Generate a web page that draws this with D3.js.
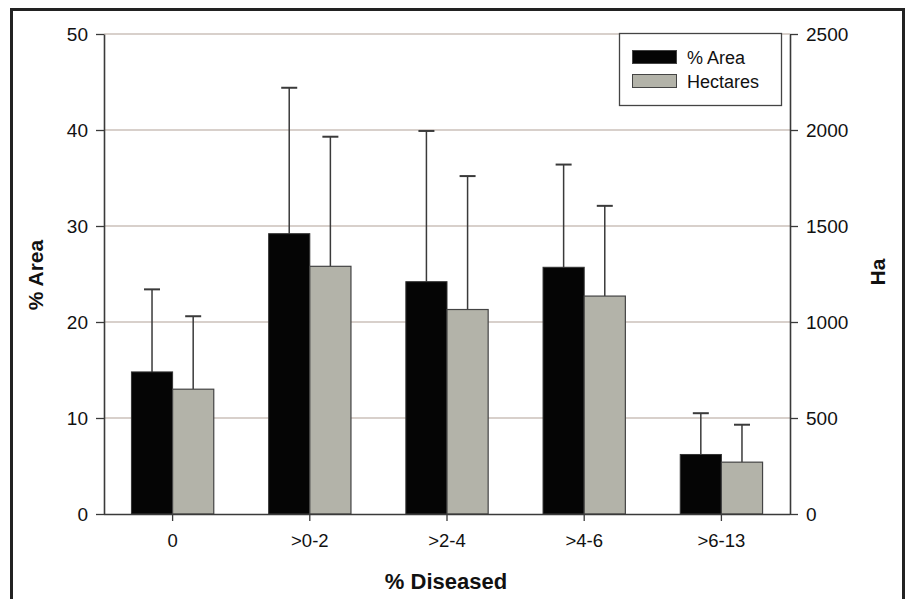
<!DOCTYPE html>
<html><head><meta charset="utf-8">
<script src="https://cdn.jsdelivr.net/npm/d3@7"></script>
<style>
html,body{margin:0;padding:0;background:#fff;}
svg{display:block;font-family:Arial,"Liberation Sans",sans-serif;}
</style></head>
<body><svg id="chart" width="907" height="599"></svg>
<script>
const categories = ["0", ">0-2", ">2-4", ">4-6", ">6-13"];
const areaPct = [14.8, 29.2, 24.2, 25.7, 6.2];
const areaErrTop = [23.4, 44.4, 39.9, 36.4, 10.5];
const hectares = [650, 1290, 1065, 1135, 270];
const hectaresErrTop = [1030, 1965, 1760, 1605, 465];
const leftTicks = [0, 10, 20, 30, 40, 50];
const rightTicks = [0, 500, 1000, 1500, 2000, 2500];
const seriesNames = ["% Area", "Hectares"];

const svg = d3.select("#chart");
const m = {left: 104, right: 790, top: 34, bottom: 514};

// outer frame
svg.append("rect").attr("x", 11.5).attr("y", 9.5).attr("width", 892).attr("height", 600)
  .attr("fill", "#fff").attr("stroke", "#222").attr("stroke-width", 3);

const x = d3.scaleBand().domain(categories).range([m.left, m.right]).paddingInner(0.4).paddingOuter(0.2);
const yL = d3.scaleLinear().domain([0, 50]).range([m.bottom, m.top]);
const yR = d3.scaleLinear().domain([0, 2500]).range([m.bottom, m.top]);

// gridlines
svg.append("g").selectAll("line").data(leftTicks.filter(d => d > 0)).join("line")
  .attr("x1", m.left).attr("x2", m.right).attr("y1", d => yL(d)).attr("y2", d => yL(d))
  .attr("stroke", "#cbc1ba").attr("stroke-width", 1.3);

const bw = x.bandwidth() / 2;
const g = svg.append("g");
const errStroke = "#3a3a3a";
categories.forEach((c, i) => {
  const cx1 = x(c) + bw / 2, cx2 = x(c) + bw * 1.5;
  g.append("line").attr("x1", cx1).attr("x2", cx1).attr("y1", yL(areaPct[i])).attr("y2", yL(areaErrTop[i]))
    .attr("stroke", errStroke).attr("stroke-width", 1.5);
  g.append("line").attr("x1", cx1 - 8).attr("x2", cx1 + 8).attr("y1", yL(areaErrTop[i])).attr("y2", yL(areaErrTop[i]))
    .attr("stroke", errStroke).attr("stroke-width", 2);
  g.append("line").attr("x1", cx2).attr("x2", cx2).attr("y1", yR(hectares[i])).attr("y2", yR(hectaresErrTop[i]))
    .attr("stroke", errStroke).attr("stroke-width", 1.5);
  g.append("line").attr("x1", cx2 - 8).attr("x2", cx2 + 8).attr("y1", yR(hectaresErrTop[i])).attr("y2", yR(hectaresErrTop[i]))
    .attr("stroke", errStroke).attr("stroke-width", 2);
});
g.selectAll("rect.a").data(categories).join("rect").attr("class", "a")
  .attr("x", c => x(c)).attr("width", bw)
  .attr("y", (c, i) => yL(areaPct[i])).attr("height", (c, i) => yL(0) - yL(areaPct[i]))
  .attr("fill", "#050505").attr("stroke", "#333").attr("stroke-width", 1);
g.selectAll("rect.h").data(categories).join("rect").attr("class", "h")
  .attr("x", c => x(c) + bw).attr("width", bw)
  .attr("y", (c, i) => yR(hectares[i])).attr("height", (c, i) => yR(0) - yR(hectares[i]))
  .attr("fill", "#b3b3a9").attr("stroke", "#444").attr("stroke-width", 1.2);

// axes
const axStyle = sel => {
  sel.selectAll(".domain").attr("stroke", "#3a3a3a").attr("stroke-width", 1.6);
  sel.selectAll(".tick line").attr("stroke", "#3a3a3a").attr("stroke-width", 1.3);
  sel.selectAll("text").attr("fill", "#111").style("font-size", "19px").style("font-family", "Arial, 'Liberation Sans', sans-serif");
};
svg.append("g").attr("transform", `translate(${m.left},0)`)
  .call(d3.axisLeft(yL).tickValues(leftTicks).tickFormat(d3.format("d")).tickSize(8).tickSizeOuter(0).tickPadding(8)).call(axStyle);
svg.append("g").attr("transform", `translate(${m.right},0)`)
  .call(d3.axisRight(yR).tickValues(rightTicks).tickFormat(d3.format("d")).tickSize(8).tickSizeOuter(0).tickPadding(8)).call(axStyle);
const xa = svg.append("g").attr("transform", `translate(0,${m.bottom})`)
  .call(d3.axisBottom(x).tickSize(7).tickSizeOuter(0).tickPadding(13)).call(axStyle);
xa.select(".domain").attr("d", `M${m.left},0.5H${m.right}`);
xa.selectAll("text").style("font-size", "18.5px");

// axis titles
svg.append("text").attr("transform", `translate(43,275) rotate(-90)`)
  .attr("text-anchor", "middle").style("font-weight", "bold").style("font-size", "21px").attr("fill", "#111").text("% Area");
svg.append("text").attr("transform", `translate(885,272) rotate(-90)`)
  .attr("text-anchor", "middle").style("font-weight", "bold").style("font-size", "21px").attr("fill", "#111").text("Ha");
svg.append("text").attr("x", 446).attr("y", 589).attr("text-anchor", "middle")
  .style("font-weight", "bold").style("font-size", "22px").attr("fill", "#111").text("% Diseased");

// legend
const lg = svg.append("g");
lg.append("rect").attr("x", 619.5).attr("y", 33.5).attr("width", 162).attr("height", 72)
  .attr("fill", "#fff").attr("stroke", "#444").attr("stroke-width", 1.3);
const legFill = ["#050505", "#b3b3a9"];
seriesNames.forEach((n, i) => {
  lg.append("rect").attr("x", 632.5).attr("y", 50.5 + i * 24).attr("width", 44).attr("height", 13)
    .attr("fill", legFill[i]).attr("stroke", "#444").attr("stroke-width", 1);
  lg.append("text").attr("x", 687).attr("y", 64 + i * 24).style("font-size", "18px").attr("fill", "#111").text(n);
});
</script></body></html>
